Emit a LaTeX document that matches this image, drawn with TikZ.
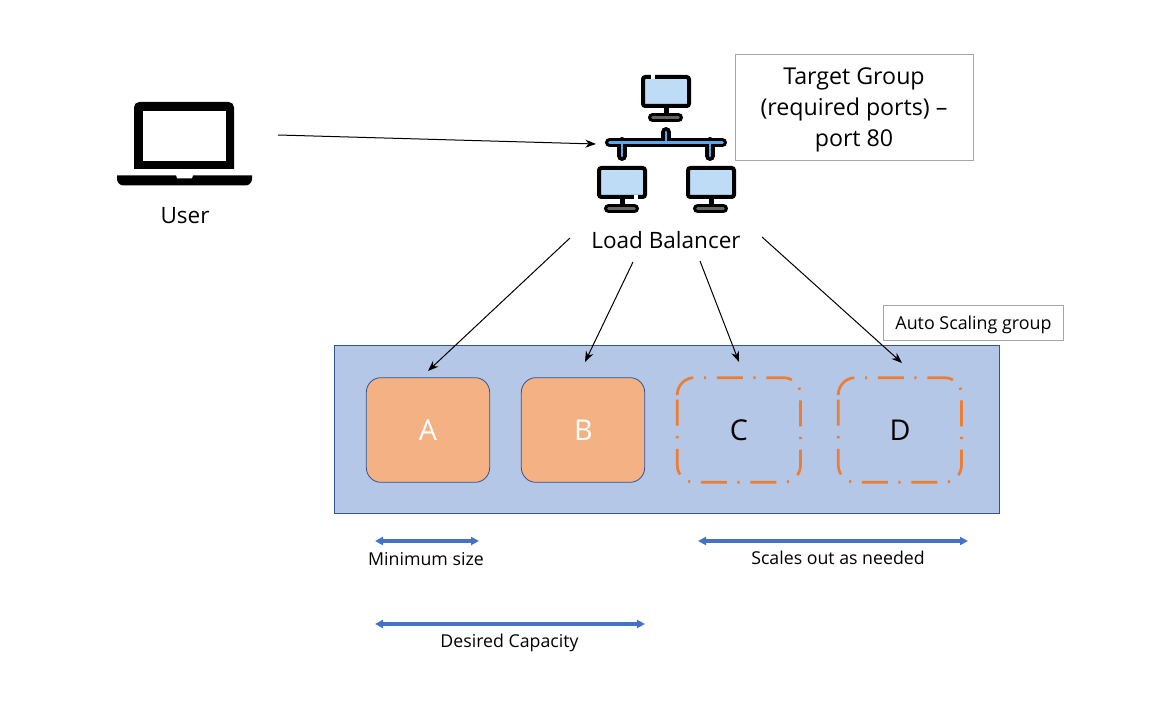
\documentclass[tikz,border=0pt]{standalone}
\usepackage{fontspec}
\setmainfont{Open Sans}
\usetikzlibrary{arrows.meta}
\definecolor{panelblue}{HTML}{B4C7E7}
\definecolor{edgeblue}{HTML}{2F5597}
\definecolor{arrowblue}{HTML}{4472C4}
\definecolor{boxorange}{HTML}{F4B183}
\definecolor{dashorange}{HTML}{ED7D31}
\definecolor{screenblue}{HTML}{BFDCF7}
\definecolor{busblue}{HTML}{5CA8E8}
\definecolor{basegray}{HTML}{666666}
\definecolor{boxgray}{HTML}{A6A6A6}
\tikzset{
  x=0.75pt,y=-0.75pt,
  lbl/.style={font=\fontsize{#1}{#1}\selectfont,text=black,inner sep=0pt,align=center},
  flow/.style={draw=black,line width=0.75pt,-{Stealth[length=8pt,width=6pt]}},
  span/.style={draw=arrowblue,line width=2.3pt,{Triangle[length=6pt,width=6pt]}-{Triangle[length=6pt,width=6pt]}},
  solidbox/.style={draw=edgeblue,line width=0.6pt,fill=boxorange,rounded corners=11pt,minimum width=92.5pt,minimum height=78.5pt,inner sep=0pt},
  dashline/.style={draw=dashorange,line width=2pt,rounded corners=12.75pt,dash pattern=on 19.5pt off 8pt on 1.6pt off 8pt},
  notebox/.style={draw=boxgray,line width=0.5pt,fill=white,inner sep=0pt,align=center},
}
\newcommand{\monitor}[2]{%
  \begin{scope}[shift={(#1,#2)}]
    \fill[black] (22.5,33) rectangle (28,39);
    \draw[draw=black,line width=3pt,fill=screenblue,rounded corners=1.8pt] (2,2) rectangle (48,31);
    \draw[black,line width=6.8pt,line cap=round] (11.5,42.5) -- (37.5,42.5);
    \draw[basegray,line width=2pt,line cap=round] (11.5,42.5) -- (37.5,42.5);
  \end{scope}}
\newcommand{\dashround}[1]{%
  \draw[dashline,shift={(#1,0)}] (677.3,395) -- (677.3,377.7) -- (800.5,377.7) -- (800.5,482.3) -- (677.3,482.3) -- (677.3,395);}
\begin{document}
\begin{tikzpicture}
\useasboundingbox (0,0) rectangle (1153,709);
\fill[white] (0,0) rectangle (1153,709);
% laptop
\fill[black] (134,169) {[rounded corners=4pt] -- (134,102) -- (234,102)} -- (234,169) -- cycle;
\fill[white] (143,111.5) rectangle (226,161);
\fill[black] (117,175.5) -- (176,175.5) -- (177,178.5) -- (192,178.5) -- (193,175.5) -- (252,175.5) {[rounded corners=5pt] -- (252,185.5) -- (117,185.5)} -- cycle;
\node[lbl=16.9] (user) at (185,216) {User};
% network icon
\draw[black,line width=7.5pt,line cap=round] (666,132) -- (666,142);
\draw[black,line width=7.5pt,line cap=round] (622,142) -- (622,156);
\draw[black,line width=7.5pt,line cap=round] (710,142) -- (710,156);
\draw[black,line width=6.8pt,line cap=round] (609.5,142.5) -- (722.5,142.5);
\draw[busblue,line width=2pt,line cap=round] (609.5,142.5) -- (722.5,142.5);
\draw[busblue,line width=2pt,line cap=round] (666,132) -- (666,142);
\draw[busblue,line width=2pt,line cap=round] (622,142) -- (622,156);
\draw[busblue,line width=2pt,line cap=round] (710,142) -- (710,156);
\monitor{641}{75}
\monitor{597}{166}
\monitor{686}{166}
\fill[white] (651,74.5) rectangle (655,79);
\fill[white] (633.5,195.5) rectangle (637.5,200);
\coordinate (lbin) at (596,144);
\coordinate (userout) at (278,135);
\node[lbl=16.9] (lb) at (666,240) {Load Balancer};
\node[notebox,minimum width=178.5pt,minimum height=79.5pt] (tg) at (854,107.5) {};
\node[lbl=17.4] (tgtext) at (854,110) {Target Group\\[6pt](required ports) --\\[6pt]port 80};
% panel
\node[draw=edgeblue,line width=0.6pt,fill=panelblue,minimum width=499pt,minimum height=126pt,inner sep=0pt] (asg) at (667,429.5) {};
\node[notebox,minimum width=135pt,minimum height=26pt] (asglabel) at (973.5,323) {};
\node[lbl=13.4] (asgtext) at (973.5,324.5) {Auto Scaling group};
\node[solidbox] (a) at (428,430) {};
\node[lbl=21.5,text=white] (atext) at (428,430) {A};
\node[solidbox] (b) at (583,430) {};
\node[lbl=21.5,text=white] (btext) at (583.5,430) {B};
\dashround{0}
\dashround{161}
\node[lbl=21.5] (ctext) at (739,430) {C};
\node[lbl=21.5] (dtext) at (900,430) {D};
% flows
\draw[flow] (userout) -- (lbin);
\coordinate (l1) at (570,238); \coordinate (t1) at (428,371);
\coordinate (l2) at (633,262); \coordinate (t2) at (585,362);
\coordinate (l3) at (700,261); \coordinate (t3) at (739,362);
\coordinate (l4) at (762,237); \coordinate (t4) at (902,363);
\draw[flow] (l1) -- (t1);
\draw[flow] (l2) -- (t2);
\draw[flow] (l3) -- (t3);
\draw[flow] (l4) -- (t4);
% spans
\coordinate (s1a) at (375,541); \coordinate (s1b) at (479,541);
\coordinate (s2a) at (698,541); \coordinate (s2b) at (968,541);
\coordinate (s3a) at (375,624); \coordinate (s3b) at (645,624);
\draw[span] (s1a) -- (s1b);
\draw[span] (s2a) -- (s2b);
\draw[span] (s3a) -- (s3b);
\node[lbl=13.3] (minsize) at (426,559) {Minimum size};
\node[lbl=13.3] (scales) at (838,558) {Scales out as needed};
\node[lbl=13.3] (desired) at (509.5,642.5) {Desired Capacity};
\end{tikzpicture}
\end{document}
